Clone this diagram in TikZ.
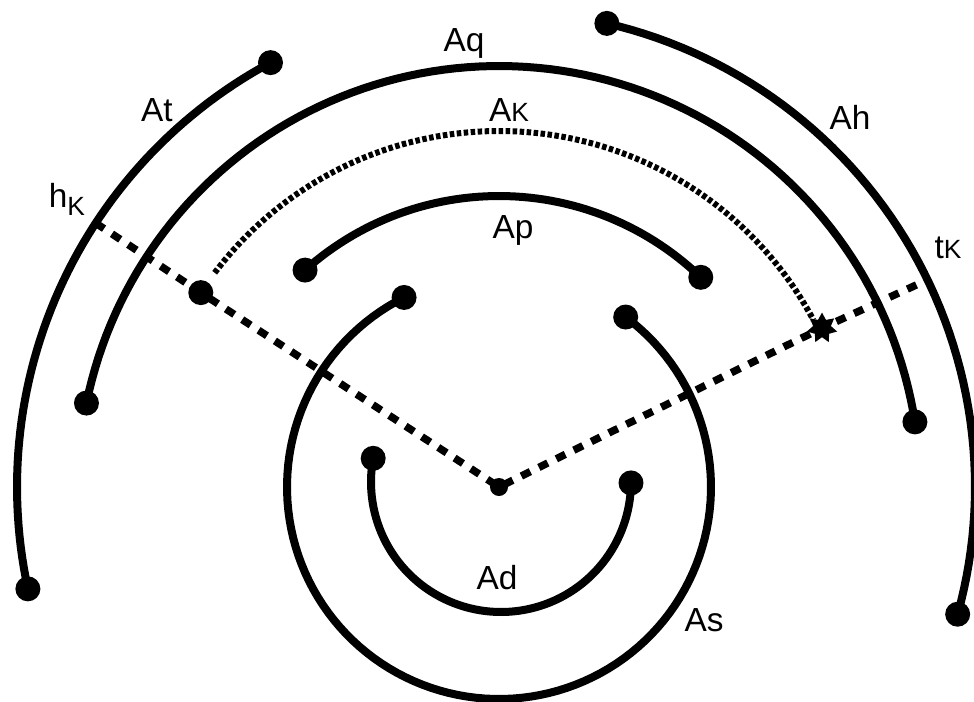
\documentclass[tikz,border=0pt]{standalone}
\usepackage{fontspec}
\setmainfont{Liberation Sans}
\usetikzlibrary{shapes.geometric}
\tikzset{
  arcline/.style={line width=0.16cm, line cap=round, line join=round},
  hatchline/.style={line width=0.12cm, dash pattern=on 0.09cm off 0.05cm},
  axisline/.style={line width=0.15cm, dash pattern=on 0.2cm off 0.19cm},
  enddot/.style={circle, fill=black, inner sep=0pt, minimum size=0.5cm},
  smalldot/.style={circle, fill=black, inner sep=0pt, minimum size=0.36cm},
  stardot/.style={star, star points=7, star point ratio=1.7, fill=black, inner sep=0pt, minimum size=0.62cm},
  lbl/.style={inner sep=1pt, font=\fontsize{19}{21}\selectfont}
}
\newcommand{\kk}{{\fontsize{15}{17}\selectfont K}}
\newcommand{\cx}{499}
\newcommand{\cy}{487}
\begin{document}
\begin{tikzpicture}[x=0.02cm, y=-0.02cm]
\useasboundingbox (0,0) rectangle (974,701);
% centre and named points on the arcs (polar about the centre, y downwards)
\node[smalldot] (O) at (\cx,\cy) {};
\coordinate (hK) at ({\cx+482*cos(-146.8)},{\cy+482*sin(-146.8)});
\coordinate (tK) at ({\cx+476*cos(-25.8)},{\cy+476*sin(-25.8)});
\coordinate (At1) at ({\cx+482*cos(-118.3)},{\cy+482*sin(-118.3)});
\coordinate (At2) at ({\cx+482*cos(167.8)},{\cy+482*sin(167.8)});
\coordinate (Aq1) at ({\cx+421*cos(-168.5)},{\cy+421*sin(-168.5)});
\coordinate (Aq2) at ({\cx+421*cos(-8.9)},{\cy+421*sin(-8.9)});
\coordinate (Ah1) at ({\cx+476*cos(-76.9)},{\cy+476*sin(-76.9)});
\coordinate (Ah2) at ({\cx+476*cos(15.5)},{\cy+476*sin(15.5)});
\coordinate (Ap1) at ({\cx+291*cos(-131.8)},{\cy+291*sin(-131.8)});
\coordinate (Ap2) at ({\cx+291*cos(-46.1)},{\cy+291*sin(-46.1)});
\coordinate (As1) at ({\cx+212*cos(243.4)},{\cy+212*sin(243.4)});
\coordinate (As2) at ({\cx+212*cos(-53.3)},{\cy+212*sin(-53.3)});
\coordinate (Ad1) at ({\cx+2+130*cos(190.5)},{\cy-5+130*sin(190.5)});
\coordinate (Ad2) at ({\cx+2+130*cos(0.4)},{\cy-5+130*sin(0.4)});
% arcs
\draw[arcline] plot[domain=167.8:241.7, samples=60] ({\cx+482*cos(\x)},{\cy+482*sin(\x)});
\draw[arcline] plot[domain=-168.5:-8.9, samples=100] ({\cx+421*cos(\x)},{\cy+421*sin(\x)});
\draw[arcline] plot[domain=-76.9:15.5, samples=60] ({\cx+476*cos(\x)},{\cy+476*sin(\x)});
\draw[arcline] plot[domain=-131.8:-46.1, samples=60] ({\cx+291*cos(\x)},{\cy+291*sin(\x)});
\draw[arcline] plot[domain=-53.3:243.4, samples=120] ({\cx+212*cos(\x)},{\cy+212*sin(\x)});
\draw[arcline] plot[domain=0.4:190.5, samples=80] ({\cx+2+130*cos(\x)},{\cy-5+130*sin(\x)});
% hatched arc A_K with its ends
\node[enddot] (Kd) at ({\cx+356*cos(-146.9)},{\cy+356*sin(-146.9)}) {};
\node[stardot] (Ks) at ({\cx+360*cos(-26.2)},{\cy+360*sin(-26.2)}) {};
\draw[hatchline] plot[domain=-143:-28, samples=100] ({\cx+356*cos(\x)},{\cy+356*sin(\x)});
% dashed axis lines
\draw[axisline] (hK) -- (Kd.center) -- (O.center) -- (Ks.center) -- (tK);
% end dots
\foreach \p in {At1,At2,Aq1,Aq2,Ah1,Ah2,Ap1,Ap2,As1,As2,Ad1,Ad2}
  \node[enddot] (d\p) at (\p) {};
% labels
\node[lbl] (lAq) at (464,43) {Aq};
\node[lbl] (lAt) at (157,110) {At};
\node[lbl] (lhK) at (67,199) {h\raisebox{-0.45ex}{\kk}};
\node[lbl] (lAK) at (509,110) {A\kk};
\node[lbl] (lAh) at (850,117) {Ah};
\node[lbl] (lAp) at (513,230) {Ap};
\node[lbl] (ltK) at (948,248) {t\kk};
\node[lbl] (lAd) at (497,578) {Ad};
\node[lbl] (lAs) at (704,620) {As};
\end{tikzpicture}
\end{document}
